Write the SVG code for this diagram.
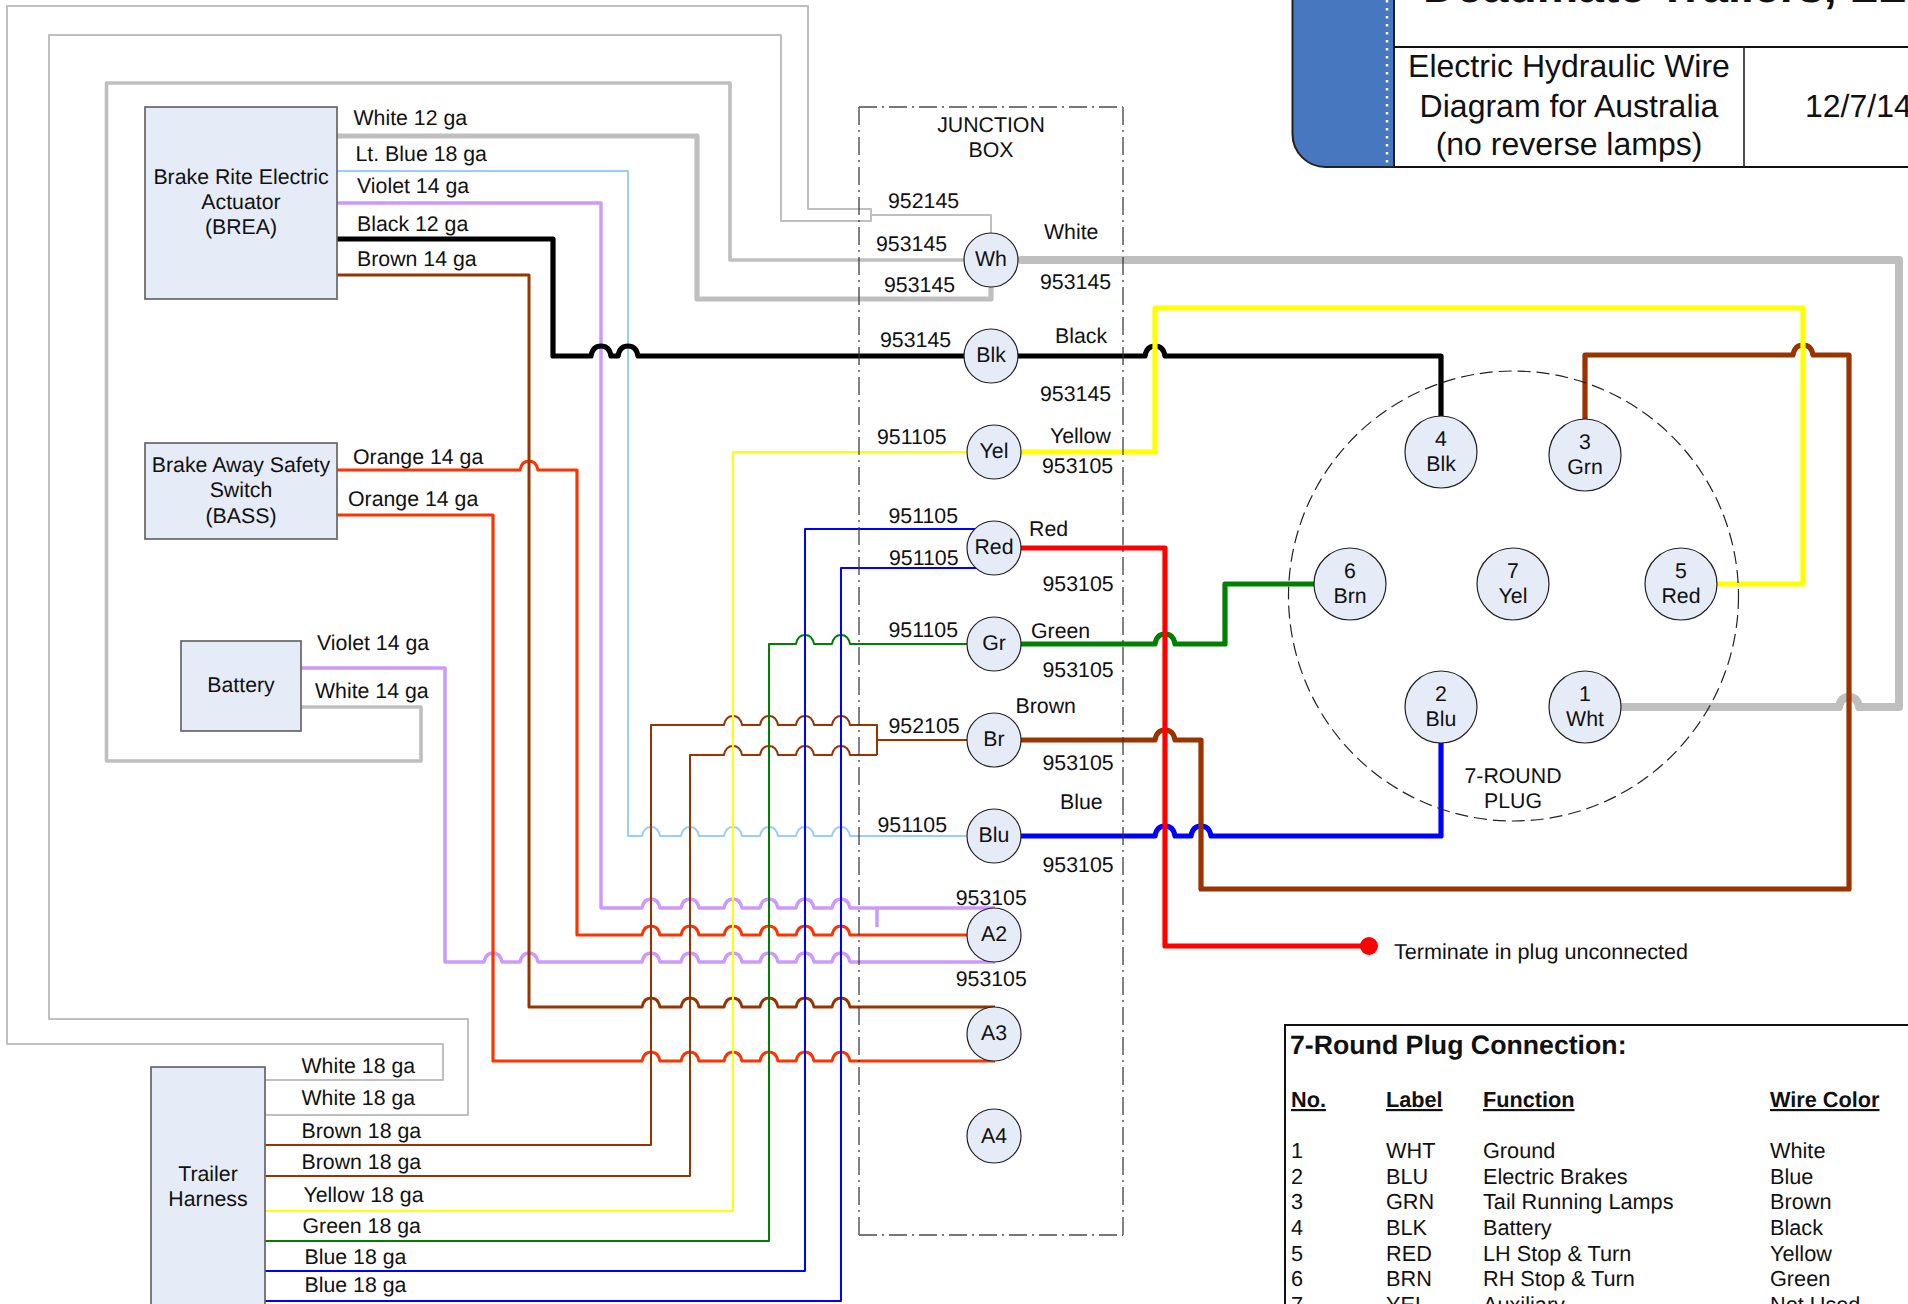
<svg xmlns="http://www.w3.org/2000/svg" width="1908" height="1304" viewBox="0 0 1908 1304">
<style>
text{font-family:"Liberation Sans",Arial,sans-serif;font-size:21.300px;fill:#111;text-rendering:geometricPrecision}
.c{text-anchor:middle}
.b{font-weight:bold}
.u{font-weight:bold;text-decoration:underline}
.t{font-size:32px}
#plug-table text{font-size:21.700px}
#plug-table text.h{font-size:26.700px}
.box{fill:#E6ECF7;stroke:#666;stroke-width:1.7}
.pin{fill:#E6ECF7;stroke:#222;stroke-width:1.2}
.w{fill:none;stroke-linejoin:round}
.thick{stroke-linecap:round}
.gray{stroke:#BFBFBF}
.vio{stroke:#CC99FF;stroke-width:3.5}
.org{stroke:#FF3300;stroke-width:3.2}
.brn{stroke:#993300}
.th{stroke-width:2}
.tk{stroke-width:5.2}
.jb{fill:none;stroke:#333;stroke-width:1.2;stroke-dasharray:18 5 2 5}
.jb2{fill:none;stroke:#777;stroke-width:2;stroke-dasharray:18 5 2 5}
</style>
<rect width="1908" height="1304" fill="#fff"/>

<g id="title-block">
<path d="M1292.5 -5V134A33 33 0 0 0 1325.500 167H1394V-5Z" fill="#4777BE" stroke="#222" stroke-width="2"/>
<line x1="1387" y1="0" x2="1387" y2="165" stroke="#fff" stroke-width="2.5" stroke-dasharray="2.500 5.500"/>
<path d="M1394 47H1908M1394 167H1908" fill="none" stroke="#111" stroke-width="2.2"/>
<line x1="1744" y1="47" x2="1744" y2="167" stroke="#222" stroke-width="1.600"/>
<text class="b" x="1423" y="2" style="font-size:46.500px">Deadmate Trailers, LLC</text>
<text class="c t" x="1569" y="77">Electric Hydraulic Wire</text>
<text class="c t" x="1569" y="117">Diagram for Australia</text>
<text class="c t" x="1569" y="155">(no reverse lamps)</text>
<text class="t" x="1805" y="117">12/7/14</text>
</g>

<g id="connectors">
<path class="w gray th" d="M265 1080H443V1044H7V6H808V209H871V221H781V35H49V1019H468V1115H265M871 215H991V233"/>
<path class="w gray thick" stroke-width="3.600" d="M301 707H421V761H106.500V83H730V260H964"/>
<path class="w gray thick tk" d="M337 136H697V299H991V287"/>
<path class="w thick gray" stroke-width="8" d="M1021 260H1899V707H1859c-1 -6 -4 -10 -10 -10s-9 4 -10 10H1621"/>
<path class="w th" stroke="#99CCFF" d="M337 171H628V836H642c1 -5 4 -9 9 -9s8 4 9 9H681c1 -5 4 -9 9 -9s8 4 9 9H724c1 -5 4 -9 9 -9s8 4 9 9H760c1 -5 4 -9 9 -9s8 4 9 9H796c1 -5 4 -9 9 -9s8 4 9 9H832c1 -5 4 -9 9 -9s8 4 9 9H967"/>
<path class="w vio" d="M337 203H601V908H642c1 -5 4 -9 9 -9s8 4 9 9H681c1 -5 4 -9 9 -9s8 4 9 9H724c1 -5 4 -9 9 -9s8 4 9 9H760c1 -5 4 -9 9 -9s8 4 9 9H796c1 -5 4 -9 9 -9s8 4 9 9H832c1 -5 4 -9 9 -9s8 4 9 9H995M877 908V927"/>
<path class="w vio" d="M301 668H445V962H484c1 -5 4 -9 9 -9s8 4 9 9H520c1 -5 4 -9 9 -9s8 4 9 9H642c1 -5 4 -9 9 -9s8 4 9 9H681c1 -5 4 -9 9 -9s8 4 9 9H724c1 -5 4 -9 9 -9s8 4 9 9H760c1 -5 4 -9 9 -9s8 4 9 9H796c1 -5 4 -9 9 -9s8 4 9 9H832c1 -5 4 -9 9 -9s8 4 9 9H995"/>
<path class="w org" d="M337 515H493V1061H642c1 -5 4 -9 9 -9s8 4 9 9H681c1 -5 4 -9 9 -9s8 4 9 9H724c1 -5 4 -9 9 -9s8 4 9 9H760c1 -5 4 -9 9 -9s8 4 9 9H796c1 -5 4 -9 9 -9s8 4 9 9H832c1 -5 4 -9 9 -9s8 4 9 9H995"/>
<path class="w org" d="M337 470H520c1 -5 4 -9 9 -9s8 4 9 9H577V935H642c1 -5 4 -9 9 -9s8 4 9 9H681c1 -5 4 -9 9 -9s8 4 9 9H724c1 -5 4 -9 9 -9s8 4 9 9H760c1 -5 4 -9 9 -9s8 4 9 9H796c1 -5 4 -9 9 -9s8 4 9 9H832c1 -5 4 -9 9 -9s8 4 9 9H967"/>
<path class="w brn" stroke-width="3" d="M337 275H529V1007H642c1 -5 4 -9 9 -9s8 4 9 9H681c1 -5 4 -9 9 -9s8 4 9 9H724c1 -5 4 -9 9 -9s8 4 9 9H760c1 -5 4 -9 9 -9s8 4 9 9H796c1 -5 4 -9 9 -9s8 4 9 9H832c1 -5 4 -9 9 -9s8 4 9 9H995"/>
<path class="w brn th" d="M265 1145H651V725H724c1 -5 4 -9 9 -9s8 4 9 9H760c1 -5 4 -9 9 -9s8 4 9 9H796c1 -5 4 -9 9 -9s8 4 9 9H832c1 -5 4 -9 9 -9s8 4 9 9H877V755M877 740H967"/>
<path class="w brn th" d="M265 1176H690V755H724c1 -5 4 -9 9 -9s8 4 9 9H760c1 -5 4 -9 9 -9s8 4 9 9H796c1 -5 4 -9 9 -9s8 4 9 9H832c1 -5 4 -9 9 -9s8 4 9 9H877"/>
<path class="w th" stroke="#FFFF00" d="M265 1211H733V452H967"/>
<path class="w th" stroke="#008000" d="M265 1241H769V644H796c1 -5 4 -9 9 -9s8 4 9 9H832c1 -5 4 -9 9 -9s8 4 9 9H967"/>
<path class="w th" stroke="#0000FF" d="M265 1271H805V529H975"/>
<path class="w th" stroke="#0000FF" d="M265 1301H841V568H977"/>
<path class="w thick tk" stroke="#000" d="M337 239H553V356H591c1 -6 4 -10 10 -10s9 4 10 10H618c1 -6 4 -10 10 -10s9 4 10 10H1145c1 -6 4 -10 10 -10s9 4 10 10H1441V416"/>
<path class="w thick tk" stroke="#0000FF" d="M1021 836H1155c1 -6 4 -10 10 -10s9 4 10 10H1191c1 -6 4 -10 10 -10s9 4 10 10H1441V743"/>
<path class="w thick tk" stroke="#008000" d="M1021 644H1155c1 -6 4 -10 10 -10s9 4 10 10H1225V584H1316"/>
<path class="w thick tk brn" d="M1021 740H1155c1 -6 4 -10 10 -10s9 4 10 10H1201V889H1849V355H1813c-1 -6 -4 -10 -10 -10s-9 4 -10 10H1585V421"/>
<path class="w thick tk" stroke="#FFFF00" d="M1021 452H1155V308H1803V584H1715"/>
<path class="w thick tk" stroke="#FF0000" d="M1021 548H1165V946H1369"/>
<ellipse cx="1369" cy="946" rx="9" ry="9" fill="#FF0000"/>
</g>

<g id="junction-box">
<path class="jb" d="M859 107V1235M1123 107V1235"/>
<path class="jb2" d="M859 107H1123M859 1235H1123"/>
<text class="c" x="991" y="132">JUNCTION</text>
<text class="c" x="991" y="157">BOX</text>
</g>

<g id="plug-outline">
<circle cx="1513.500" cy="596" r="225" fill="none" stroke="#222" stroke-width="1.200" stroke-dasharray="13 6"/>
<text class="c" x="1513" y="783">7-ROUND</text>
<text class="c" x="1513" y="808">PLUG</text>
</g>

<g id="BREA"><rect class="box" x="145" y="107" width="192" height="192"/>
<text class="c" x="241" y="184">Brake Rite Electric</text><text class="c" x="241" y="209">Actuator</text><text class="c" x="241" y="234">(BREA)</text></g>
<g id="BASS"><rect class="box" x="145" y="443" width="192" height="96"/>
<text class="c" x="241" y="472">Brake Away Safety</text><text class="c" x="241" y="497">Switch</text><text class="c" x="241" y="523">(BASS)</text></g>
<g id="Battery"><rect class="box" x="181" y="641" width="120" height="90"/>
<text class="c" x="241" y="692">Battery</text></g>
<g id="Trailer-Harness"><rect class="box" x="151" y="1067" width="114" height="260"/>
<text class="c" x="208" y="1181">Trailer</text><text class="c" x="208" y="1206">Harness</text></g>

<g id="node-Wh"><circle class="pin" cx="991" cy="260" r="27"/><text class="c" x="991" y="266">Wh</text></g>
<g id="node-Blk"><circle class="pin" cx="991" cy="356" r="27"/><text class="c" x="991" y="362">Blk</text></g>
<g id="node-Yel"><circle class="pin" cx="994" cy="452" r="27"/><text class="c" x="994" y="458">Yel</text></g>
<g id="node-Red"><circle class="pin" cx="994" cy="548" r="27"/><text class="c" x="994" y="554">Red</text></g>
<g id="node-Gr"><circle class="pin" cx="994" cy="644" r="27"/><text class="c" x="994" y="650">Gr</text></g>
<g id="node-Br"><circle class="pin" cx="994" cy="740" r="27"/><text class="c" x="994" y="746">Br</text></g>
<g id="node-Blu"><circle class="pin" cx="994" cy="836" r="27"/><text class="c" x="994" y="842">Blu</text></g>
<g id="node-A2"><circle class="pin" cx="994" cy="935" r="27"/><text class="c" x="994" y="941">A2</text></g>
<g id="node-A3"><circle class="pin" cx="994" cy="1034" r="27"/><text class="c" x="994" y="1040">A3</text></g>
<g id="node-A4"><circle class="pin" cx="994" cy="1136" r="27"/><text class="c" x="994" y="1143">A4</text></g>

<g id="pin-4"><circle class="pin" cx="1441" cy="452" r="36"/><text class="c" x="1441" y="446">4</text><text class="c" x="1441" y="471">Blk</text></g>
<g id="pin-3"><circle class="pin" cx="1585" cy="455" r="36"/><text class="c" x="1585" y="449">3</text><text class="c" x="1585" y="474">Grn</text></g>
<g id="pin-6"><circle class="pin" cx="1350" cy="584" r="36"/><text class="c" x="1350" y="578">6</text><text class="c" x="1350" y="603">Brn</text></g>
<g id="pin-7"><circle class="pin" cx="1513" cy="584" r="36"/><text class="c" x="1513" y="578">7</text><text class="c" x="1513" y="603">Yel</text></g>
<g id="pin-5"><circle class="pin" cx="1681" cy="584" r="36"/><text class="c" x="1681" y="578">5</text><text class="c" x="1681" y="603">Red</text></g>
<g id="pin-2"><circle class="pin" cx="1441" cy="707" r="36"/><text class="c" x="1441" y="701">2</text><text class="c" x="1441" y="726">Blu</text></g>
<g id="pin-1"><circle class="pin" cx="1585" cy="707" r="36"/><text class="c" x="1585" y="701">1</text><text class="c" x="1585" y="726">Wht</text></g>

<g id="wire-labels">
<text x="353.500" y="125">White 12 ga</text>
<text x="355.500" y="161">Lt. Blue 18 ga</text>
<text x="357" y="193">Violet 14 ga</text>
<text x="357" y="231">Black 12 ga</text>
<text x="357" y="266">Brown 14 ga</text>
<text x="353" y="464">Orange 14 ga</text>
<text x="348" y="506">Orange 14 ga</text>
<text x="317" y="650">Violet 14 ga</text>
<text x="315" y="698">White 14 ga</text>
<text x="301.500" y="1073">White 18 ga</text>
<text x="301.500" y="1105">White 18 ga</text>
<text x="301.500" y="1138">Brown 18 ga</text>
<text x="301.500" y="1169">Brown 18 ga</text>
<text x="303.500" y="1202">Yellow 18 ga</text>
<text x="302.500" y="1233">Green 18 ga</text>
<text x="304.500" y="1264">Blue 18 ga</text>
<text x="304.500" y="1292">Blue 18 ga</text>
<text x="888" y="208">952145</text>
<text x="876" y="251">953145</text>
<text x="884" y="292">953145</text>
<text x="880" y="347">953145</text>
<text x="877" y="444">951105</text>
<text x="1044" y="239">White</text>
<text x="1040" y="289">953145</text>
<text x="1055" y="343">Black</text>
<text x="1040" y="401">953145</text>
<text x="1050" y="443">Yellow</text>
<text x="1042" y="473">953105</text>
<text x="888.500" y="523">951105</text>
<text x="889" y="565">951105</text>
<text x="1029" y="536">Red</text>
<text x="1042.500" y="591">953105</text>
<text x="888.500" y="637">951105</text>
<text x="1031" y="638">Green</text>
<text x="1042.500" y="677">953105</text>
<text x="1015.500" y="713">Brown</text>
<text x="888.500" y="733">952105</text>
<text x="1042.500" y="770">953105</text>
<text x="1060" y="809">Blue</text>
<text x="877.500" y="832">951105</text>
<text x="1042.500" y="872">953105</text>
<text x="955.700" y="905">953105</text>
<text x="955.700" y="986">953105</text>
<text x="1394" y="959" style="font-size:21.600px">Terminate in plug unconnected</text>
</g>

<g id="plug-table">
<path d="M1908 1025H1285V1304" fill="none" stroke="#111" stroke-width="2"/>
<text class="b h" x="1290" y="1054">7-Round Plug Connection:</text>
<text class="u" x="1291" y="1107">No.</text><text class="u" x="1386" y="1107">Label</text><text class="u" x="1483" y="1107">Function</text><text class="u" x="1770" y="1107">Wire Color</text>
<text x="1291" y="1158">1</text><text x="1386" y="1158">WHT</text><text x="1483" y="1158">Ground</text><text x="1770" y="1158">White</text>
<text x="1291" y="1184">2</text><text x="1386" y="1184">BLU</text><text x="1483" y="1184">Electric Brakes</text><text x="1770" y="1184">Blue</text>
<text x="1291" y="1209">3</text><text x="1386" y="1209">GRN</text><text x="1483" y="1209">Tail Running Lamps</text><text x="1770" y="1209">Brown</text>
<text x="1291" y="1235">4</text><text x="1386" y="1235">BLK</text><text x="1483" y="1235">Battery</text><text x="1770" y="1235">Black</text>
<text x="1291" y="1261">5</text><text x="1386" y="1261">RED</text><text x="1483" y="1261">LH Stop &amp; Turn</text><text x="1770" y="1261">Yellow</text>
<text x="1291" y="1286">6</text><text x="1386" y="1286">BRN</text><text x="1483" y="1286">RH Stop &amp; Turn</text><text x="1770" y="1286">Green</text>
<text x="1291" y="1312">7</text><text x="1386" y="1312">YEL</text><text x="1483" y="1312">Auxiliary</text><text x="1770" y="1312">Not Used</text>
</g>
</svg>
